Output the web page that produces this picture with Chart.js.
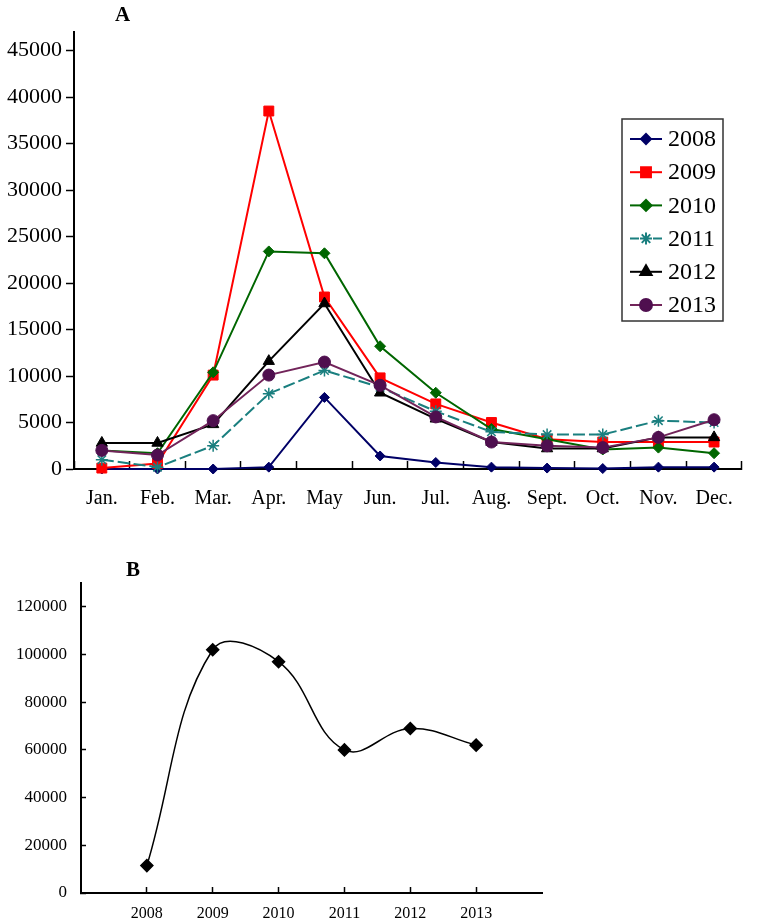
<!DOCTYPE html>
<html>
<head>
<meta charset="utf-8">
<script src="https://cdn.jsdelivr.net/npm/chart.js@4.4.0/dist/chart.umd.min.js"></script>
<style>
  body { margin: 0; background: #fff; }
  #wrap { position: relative; width: 759px; height: 924px; overflow: hidden; }
  canvas { position: absolute; left: 0; }
  #chartA { top: 0; }
  #chartB { top: 540px; }
  .panel { position: absolute; font: bold 21px 'Liberation Serif', 'Times New Roman', serif; color: #000; }
</style>
</head>
<body>
<div id="wrap">
  <canvas id="chartA" width="759" height="520"></canvas>
  <canvas id="chartB" width="759" height="384"></canvas>
  <div class="panel" style="left:115px;top:2px">A</div>
  <div class="panel" style="left:126px;top:557px">B</div>
</div>
<script>
// panel A: monthly values per year
const months = ['Jan.', 'Feb.', 'Mar.', 'Apr.', 'May', 'Jun.', 'Jul.', 'Aug.', 'Sept.', 'Oct.', 'Nov.', 'Dec.'];
const y2008 = [0, 0, 0, 200, 7700, 1400, 700, 200, 100, 50, 200, 200];
const y2009 = [100, 600, 10100, 38500, 18500, 9800, 7000, 5000, 3200, 2900, 2900, 2900];
const y2010 = [2000, 1700, 10400, 23400, 23200, 13200, 8200, 4300, 3200, 2100, 2300, 1700];
const y2011 = [1000, 200, 2500, 8100, 10600, 8800, 6200, 4000, 3700, 3700, 5200, 5000];
const y2012 = [2800, 2800, 4800, 11600, 17800, 8200, 5400, 2900, 2200, 2200, 3400, 3400];
const y2013 = [2000, 1500, 5200, 10100, 11500, 9000, 5600, 2900, 2500, 2300, 3400, 5300];
const yTicksA = [0, 5000, 10000, 15000, 20000, 25000, 30000, 35000, 40000, 45000];

// panel B: yearly totals
const years = [2008, 2009, 2010, 2011, 2012, 2013];
const totals = [11500, 102000, 97000, 60000, 69000, 62000];
const yTicksB = [0, 20000, 40000, 60000, 80000, 100000, 120000];

const serif = "'Liberation Serif', 'Times New Roman', serif";
Chart.defaults.font.family = serif;
Chart.defaults.color = '#000';

function series(label, data, color, marker, size, extra) {
  return Object.assign({
    label: label,
    data: data,
    borderColor: color,
    backgroundColor: color,
    pointBackgroundColor: color,
    pointBorderColor: color,
    borderWidth: 2,
    pointStyle: marker,
    pointRadius: size,
    pointBorderWidth: 1,
    tension: 0,
    clip: false
  }, extra || {});
}

const datasetsA = [
  series('2008', y2008, '#000066', 'rectRot', 5, { order: 5 }),
  series('2009', y2009, '#ff0000', 'rect', 7, { order: 4 }),
  series('2010', y2010, '#006600', 'rectRot', 5.5, { order: 3 }),
  series('2011', y2011, '#1a7f7f', 'star', 6, { order: 2, borderDash: [12, 4], pointBorderWidth: 1.5 }),
  series('2012', y2012, '#000000', 'triangle', 6.5, { order: 1 }),
  series('2013', y2013, '#72245a', 'circle', 6, { order: 0, pointBackgroundColor: '#4f0f4f', pointBorderColor: '#4f0f4f' })
];

// legend box drawn inside the plot
const boxLegend = {
  id: 'boxLegend',
  afterDraw(chart) {
    const ctx = chart.ctx;
    const x0 = 622, y0 = 119, w = 101, h = 202, rowH = 33.2;
    ctx.save();
    ctx.fillStyle = '#fff';
    ctx.fillRect(x0, y0, w, h);
    ctx.strokeStyle = '#333';
    ctx.lineWidth = 1.5;
    ctx.strokeRect(x0, y0, w, h);
    chart.data.datasets.forEach((ds, i) => {
      const cy = y0 + 20 + i * rowH;
      ctx.strokeStyle = ds.borderColor;
      ctx.lineWidth = 2;
      ctx.beginPath();
      if (ds.borderDash) {
        ctx.moveTo(630, cy); ctx.lineTo(639, cy);
        ctx.moveTo(653, cy); ctx.lineTo(662, cy);
      } else {
        ctx.moveTo(630, cy); ctx.lineTo(662, cy);
      }
      ctx.stroke();
      ctx.fillStyle = ds.pointBackgroundColor;
      ctx.strokeStyle = ds.pointBorderColor;
      Chart.helpers.drawPoint(ctx, {
        pointStyle: ds.pointStyle,
        radius: ds.pointRadius,
        rotation: 0,
        borderWidth: ds.pointBorderWidth
      }, 646, cy);
      ctx.fillStyle = '#000';
      ctx.font = '24px ' + serif;
      ctx.textAlign = 'left';
      ctx.textBaseline = 'middle';
      ctx.fillText(ds.label, 668, cy + 1);
    });
    ctx.restore();
  }
};

new Chart(document.getElementById('chartA'), {
  type: 'line',
  data: { labels: months, datasets: datasetsA },
  plugins: [boxLegend],
  options: {
    responsive: false,
    animation: false,
    devicePixelRatio: 1,
    layout: { padding: { top: 32, right: 3, bottom: 0, left: 0 } },
    plugins: { legend: { display: false }, tooltip: { enabled: false } },
    scales: {
      x: {
        type: 'category',
        offset: true,
        grid: { offset: true, drawOnChartArea: false, color: '#000', tickLength: -8, tickWidth: 1.5 },
        border: { color: '#000', width: 2 },
        ticks: { font: { size: 20 }, padding: 26, maxRotation: 0, autoSkip: false },
        afterFit: (s) => { s.height = 51; }
      },
      y: {
        min: 0,
        max: 47000,
        grid: { drawOnChartArea: false, color: '#000', tickLength: 8, tickWidth: 1.5 },
        border: { color: '#000', width: 2 },
        ticks: { font: { size: 22 }, padding: 4, callback: (v) => String(v) },
        afterBuildTicks: (s) => { s.ticks = yTicksA.map(v => ({ value: v })); },
        afterFit: (s) => { s.width = 74; }
      }
    }
  }
});

new Chart(document.getElementById('chartB'), {
  type: 'line',
  data: {
    datasets: [{
      label: 'Total',
      data: years.map((yr, i) => ({ x: yr, y: totals[i] })),
      borderColor: '#000',
      backgroundColor: '#000',
      borderWidth: 1.5,
      pointStyle: 'rectRot',
      pointRadius: 6,
      pointBackgroundColor: '#000',
      pointBorderColor: '#000',
      tension: 0.4,
      clip: false
    }]
  },
  options: {
    responsive: false,
    animation: false,
    devicePixelRatio: 1,
    layout: { padding: { top: 43, right: 217, bottom: 0, left: 0 } },
    plugins: { legend: { display: false }, tooltip: { enabled: false } },
    scales: {
      x: {
        type: 'linear',
        min: 2007,
        max: 2014,
        grid: { drawOnChartArea: false, color: '#000', tickLength: -6, tickWidth: 1.5 },
        border: { color: '#000', width: 2 },
        ticks: { font: { size: 16 }, padding: 17, callback: (v) => String(v) },
        afterBuildTicks: (s) => { s.ticks = years.map(v => ({ value: v })); },
        afterFit: (s) => { s.height = 31; }
      },
      y: {
        min: 0,
        max: 130000,
        grid: { drawOnChartArea: false, color: '#000', tickLength: -5, tickWidth: 1.5 },
        border: { color: '#000', width: 2 },
        ticks: { font: { size: 17 }, padding: 19, callback: (v) => String(v) },
        afterBuildTicks: (s) => { s.ticks = yTicksB.map(v => ({ value: v })); },
        afterFit: (s) => { s.width = 81; }
      }
    }
  }
});
</script>
</body>
</html>
